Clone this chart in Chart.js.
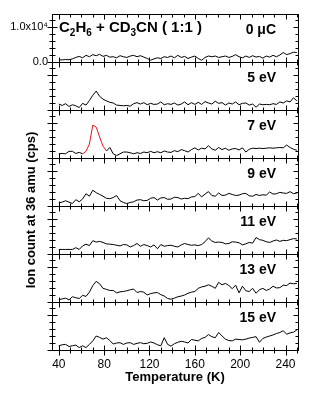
<!DOCTYPE html>
<html>
<head>
<meta charset="utf-8">
<script src="https://cdn.jsdelivr.net/npm/chart.js@4.4.1/dist/chart.umd.min.js"></script>
<style>
  html, body { margin: 0; padding: 0; background: #fff; }
  #wrap { width: 309px; height: 393px; }
</style>
</head>
<body>
<div id="wrap"><canvas id="myChart"></canvas></div>
<script>
// temperature grid (K)
const temps = [40,43,46,49,52,55,58,61,64,67,70,73,76,79,82,85,88,91,94,97,
  100,103,106,109,112,115,118,121,124,127,130,133,136,139,142,145,148,151,154,157,
  160,163,166,169,172,175,178,181,184,187,190,193,196,199,202,205,208,211,214,217,
  220,223,226,229,232,235,238,241,244,247,250];

// ion count at 36 amu (cps), one array per panel
const counts0uC = [600,600,700,650,900,1300,1600,1200,1900,1500,2100,1800,2200,1600,1900,1400,1500,1200,1800,1500,
  1300,1700,1900,1500,1800,1400,1000,500,900,1200,1000,1500,1300,1700,1200,1900,1300,1600,1000,1400,
  1700,1000,500,1300,1700,1500,1700,1300,1500,1700,1300,1600,2100,1500,1200,1700,1300,1800,1400,1600,
  1100,1700,1400,1900,1500,2000,2700,2100,2400,2800,2700];
const counts5eV = [1700,1300,1800,1000,1500,1200,700,1900,1400,2700,4200,5400,3900,3100,2600,2200,2000,1400,1300,1200,
  1300,1100,1800,2100,1700,2100,1500,1900,1600,1700,2300,1500,1800,1600,2000,1400,1700,2300,1500,2100,
  1600,2200,1600,2400,2000,1700,2500,1900,2100,1400,2000,1700,2300,1500,1900,2000,1400,1700,800,1700,
  1500,1600,1500,1800,1600,2300,2000,2600,2300,3500,2600];
const counts7eV = [1200,1300,1200,1900,1900,1300,1600,1200,1900,4000,9400,8800,6000,3400,2000,3000,1200,700,1200,1700,
  1700,1500,1200,1500,1300,1700,1500,1900,1500,1800,1500,2000,1700,1600,2100,1800,2400,2100,1700,2400,
  2900,2300,2800,2600,3500,2600,2200,3000,2400,2800,2200,2600,2700,2300,2900,1700,2500,2800,2700,2800,
  2700,2800,2900,2800,2900,3000,2900,3700,3000,2500,2200];
const counts9eV = [900,1100,1500,1100,700,1800,1200,2000,3500,2800,4500,3800,3300,2800,2200,2100,2400,3000,1500,1000,
  700,1000,1200,1700,1800,1500,1600,2200,2400,1700,2300,2400,1900,2000,2500,2400,2000,2200,2100,2600,
  2700,3600,2600,3400,4100,3000,2800,3700,3000,3100,3600,3300,3000,3100,3500,3600,2900,2800,3300,3000,
  3200,3100,4000,3400,3500,3900,3700,3600,4100,3500,3700];
const counts11eV = [1300,1300,1300,1300,1300,1800,1300,2300,2800,2400,3800,3400,3600,3300,2900,2800,2700,2500,2300,2700,
  2600,2000,2400,3000,2200,2700,2400,2000,2600,1500,2700,2200,2400,2500,2200,2000,2600,3000,2700,2500,
  2600,2400,2700,3500,4600,3700,3300,3400,3300,2900,3000,3500,3400,3200,2600,2900,3300,3100,4700,4100,
  3900,3500,3300,3700,4000,3600,3900,3800,4100,4400,4300];
const counts13eV = [600,900,1100,600,1500,1200,1000,1900,1600,2800,4700,5900,5200,3900,3600,3300,3300,2600,2900,3000,
  3200,3500,3700,2700,3000,2800,2000,2400,2600,2700,2100,1700,1000,800,1100,1500,1700,2000,2500,2800,
  3000,3900,4300,4500,4900,4500,3900,5600,4900,5300,4700,3800,4800,2600,4500,3200,3000,3900,2500,3500,
  3900,3300,3700,4500,4000,4100,4800,4700,5400,5200,5300];
const counts15eV = [1200,1500,1600,1000,1200,1400,700,1200,700,1600,2600,4000,3600,3100,3500,2700,1700,2000,2100,1600,
  2000,2100,1600,1900,2100,1800,1900,2300,2000,1500,1200,3500,1600,1100,1800,2200,2500,2300,2000,3000,
  2800,2600,3300,3600,4400,3800,3500,5000,4000,3100,2700,2600,3100,3000,2900,3100,3400,3600,3800,2200,
  3300,3700,4000,4300,4700,5000,5500,4500,4900,5100,5700];

const panelLabels = ['0 \u03BCC', '5 eV', '7 eV', '9 eV', '11 eV', '13 eV', '15 eV'];
const panelSeries = [counts0uC, counts5eV, counts7eV, counts9eV, counts11eV, counts13eV, counts15eV];

// red fitted part of the 7 eV desorption peak
const fitRange = [61, 82];

const tempLabels = [40, 80, 120, 160, 200, 240];
const countTicks = [0, 2000, 4000, 6000, 8000, 10000, 12000];
const yMax = 13700;
const FONT = '"Liberation Sans", Arial, sans-serif';

var scales = {
  x: {
    type: 'linear',
    min: 34,
    max: 251,
    grid: { display: false, drawTicks: false },
    border: { display: false },
    afterBuildTicks: function(axis) {
      var t = [];
      for (var v = 40; v <= 250; v += 10) t.push({ value: v });
      axis.ticks = t;
    },
    afterFit: function(axis) { axis.height = 43; },
    ticks: {
      autoSkip: false,
      maxRotation: 0,
      padding: 7,
      color: '#000',
      font: { family: FONT, size: 12 },
      callback: function(v) { return tempLabels.indexOf(v) >= 0 ? String(v) : ''; }
    },
    title: {
      display: true,
      text: 'Temperature (K)',
      color: '#000',
      font: { family: FONT, size: 13, weight: 'bold' },
      padding: { top: 0, bottom: 8 }
    }
  }
};

// stacked panels: the axis added last ends up on top
for (var i = panelSeries.length - 1; i >= 0; i--) {
  scales['y' + i] = {
    type: 'linear',
    position: 'left',
    stack: 'panels',
    stackWeight: 1,
    min: 0,
    max: yMax,
    grid: { display: false, drawTicks: false },
    border: { display: false },
    afterBuildTicks: function(axis) {
      axis.ticks = countTicks.map(function(v) { return { value: v }; });
    },
    afterFit: function(axis) { axis.width = 52; },
    ticks: {
      display: i === 0,
      autoSkip: false,
      padding: 4,
      color: '#000',
      font: { family: FONT, size: 11 },
      callback: function(v) {
        if (v === 0) return '0.0';
        if (v === 10000) return '1.0x10\u2074';
        return '';
      }
    }
  };
}

function inFit(ctx) {
  return ctx.p0.parsed.x >= fitRange[0] && ctx.p1.parsed.x <= fitRange[1];
}

var datasets = panelSeries.map(function(s, i) {
  var ds = {
    label: panelLabels[i],
    data: temps.map(function(t, k) { return { x: t, y: s[k] }; }),
    yAxisID: 'y' + i,
    borderColor: '#000',
    borderWidth: 1,
    pointRadius: 0,
    tension: 0,
    fill: false
  };
  if (i === 2) {
    ds.segment = { borderColor: function(ctx) { return inFit(ctx) ? '#e8141c' : '#000'; } };
  }
  return ds;
});

// frames, inward ticks and the panel texts
var panelFrames = {
  id: 'panelFrames',
  afterDraw: function(chart) {
    var ctx = chart.ctx;
    var xs = chart.scales.x;
    var L = xs.left, R = xs.right;
    ctx.save();
    ctx.strokeStyle = '#000';
    ctx.lineWidth = 1;

    function seg(x1, y1, x2, y2) {
      ctx.beginPath();
      ctx.moveTo(x1, y1);
      ctx.lineTo(x2, y2);
      ctx.stroke();
    }

    panelSeries.forEach(function(s, i) {
      var ys = chart.scales['y' + i];
      var top = Math.round(ys.top) + 0.5, bot = Math.round(ys.bottom) + 0.5;
      var l = Math.round(L) + 0.5, r = Math.round(R) + 0.5;
      ctx.strokeRect(l, top, r - l, bot - top);

      xs.ticks.forEach(function(tk) {
        var px = Math.round(xs.getPixelForValue(tk.value)) + 0.5;
        var len = tempLabels.indexOf(tk.value) >= 0 ? 5 : 3;
        seg(px, top, px, top + len);
        seg(px, bot, px, bot - len);
        if (i === panelSeries.length - 1) seg(px, bot, px, bot + len);
      });

      ys.ticks.forEach(function(tk) {
        var py = Math.round(ys.getPixelForValue(tk.value)) + 0.5;
        var len = tk.value % 10000 === 0 ? 5 : 3;
        seg(l - len, py, l + len, py);
        seg(r - len, py, r, py);
      });

      ctx.fillStyle = '#000';
      ctx.font = 'bold 14px ' + FONT;
      ctx.textAlign = 'right';
      ctx.textBaseline = 'alphabetic';
      ctx.fillText(panelLabels[i], 276, ys.top + 20);
    });

    // C2H6 + CD3CN ( 1:1 )
    var parts = [['C', 0], ['2', 1], ['H', 0], ['6', 1], [' + CD', 0], ['3', 1], ['CN ( 1:1 )', 0]];
    var x = 59, y = chart.scales.y0.top + 18;
    ctx.textAlign = 'left';
    parts.forEach(function(p) {
      ctx.font = p[1] ? 'bold 10px ' + FONT : 'bold 15px ' + FONT;
      ctx.fillText(p[0], x, y + (p[1] ? 4 : 0));
      x += ctx.measureText(p[0]).width;
    });

    // y axis title
    ctx.translate(31, 210);
    ctx.rotate(-Math.PI / 2);
    ctx.textAlign = 'center';
    ctx.textBaseline = 'middle';
    ctx.font = 'bold 13px ' + FONT;
    ctx.fillText('Ion count at 36 amu (cps)', 0, 0);
    ctx.restore();
  }
};

new Chart(document.getElementById('myChart'), {
  type: 'line',
  data: { datasets: datasets },
  options: {
    responsive: true,
    maintainAspectRatio: false,
    animation: false,
    events: [],
    layout: { padding: { left: 0, right: 11, top: 14, bottom: 0 } },
    plugins: {
      legend: { display: false },
      tooltip: { enabled: false }
    },
    scales: scales
  },
  plugins: [panelFrames]
});
</script>
</body>
</html>
